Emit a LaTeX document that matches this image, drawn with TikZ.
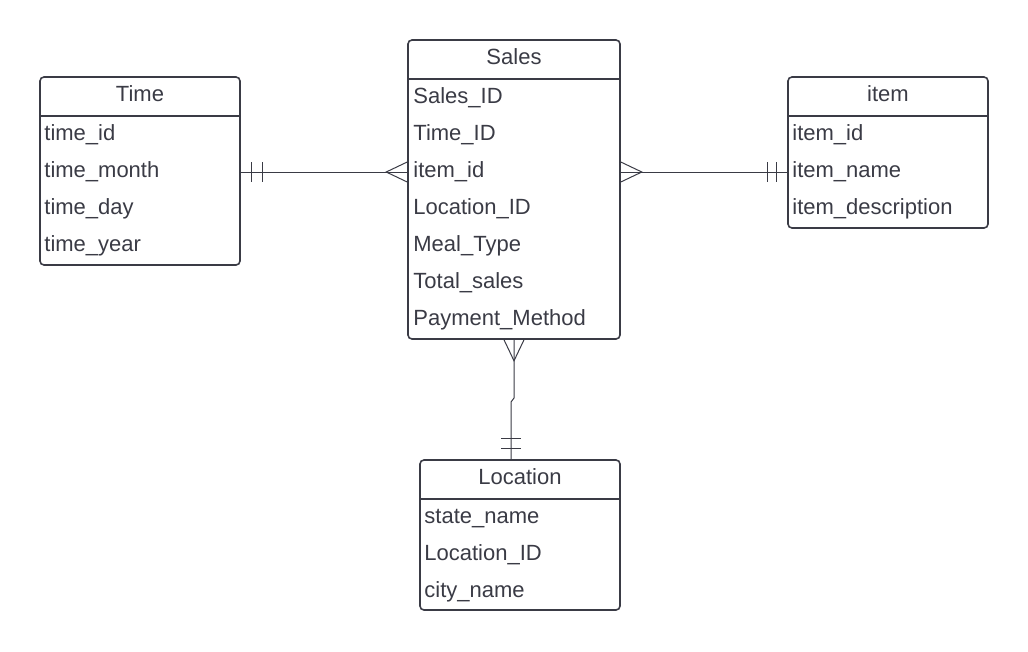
\documentclass[tikz,border=0pt]{standalone}
\usepackage{fontspec}
\setmainfont{Liberation Sans}
\definecolor{ink}{HTML}{3A3B45}

\begin{document}
\begin{tikzpicture}[x=1pt, y=-1pt,
    tbl/.style={draw=ink, line width=1.6pt, rounded corners=4pt},
    hdr/.style={draw=ink, line width=1.6pt},
    title/.style={anchor=base, inner sep=0pt, text=ink, font=\fontsize{22}{26}\selectfont},
    field/.style={anchor=base west, inner sep=0pt, text=ink, font=\fontsize{22}{26}\selectfont},
    rel/.style={draw=ink, line width=1pt}]
    \useasboundingbox (0,0) rectangle (1028,651);

    % Time table
    \node[tbl, minimum width=200pt, minimum height=188pt] (time) at (140,171) {};
    \draw[hdr] ([yshift=-40pt]time.north west) -- ([yshift=-40pt]time.north east);
    \node[title] (timeT) at ([yshift=-25pt]time.north) {Time};
    \foreach \f [count=\i] in {time\_id, time\_month, time\_day, time\_year}
        \node[field] (time\i) at ([xshift=5pt, yshift={-64pt-37pt*(\i-1)}]time.north west) {\f};

    % Sales table
    \node[tbl, minimum width=212pt, minimum height=299pt] (sales) at (514,189.5) {};
    \draw[hdr] ([yshift=-40pt]sales.north west) -- ([yshift=-40pt]sales.north east);
    \node[title] (salesT) at ([yshift=-25pt]sales.north) {Sales};
    \foreach \f [count=\i] in {Sales\_ID, Time\_ID, item\_id, Location\_ID, Meal\_Type, Total\_sales, Payment\_Method}
        \node[field] (sales\i) at ([xshift=6pt, yshift={-64.5pt-37pt*(\i-1)}]sales.north west) {\f};

    % item table
    \node[tbl, minimum width=200pt, minimum height=151pt] (item) at (888,152.5) {};
    \draw[hdr] ([yshift=-40pt]item.north west) -- ([yshift=-40pt]item.north east);
    \node[title] (itemT) at ([yshift=-25pt]item.north) {item};
    \foreach \f [count=\i] in {item\_id, item\_name, item\_description}
        \node[field] (item\i) at ([xshift=5pt, yshift={-64pt-37pt*(\i-1)}]item.north west) {\f};

    % Location table
    \node[tbl, minimum width=200pt, minimum height=150pt] (location) at (520,535) {};
    \draw[hdr] ([yshift=-40pt]location.north west) -- ([yshift=-40pt]location.north east);
    \node[title] (locationT) at ([yshift=-25pt]location.north) {Location};
    \foreach \f [count=\i] in {state\_name, Location\_ID, city\_name}
        \node[field] (location\i) at ([xshift=5pt, yshift={-64.5pt-37pt*(\i-1)}]location.north west) {\f};

    % relation ends
    \coordinate (ts) at (time.east |- 0,172);
    \coordinate (st) at (sales.west |- 0,172);
    \coordinate (si) at (sales.east |- 0,172);
    \coordinate (is) at (item.west |- 0,172);
    \coordinate (sl) at (sales.south);
    \coordinate (ls) at (location.north -| 511,0);

    % Time -- Sales (one to many)
    \draw[rel] (ts) -- (st);
    \draw[rel] ([xshift=11pt]ts) ++(0,-10) -- ++(0,20);
    \draw[rel] ([xshift=22pt]ts) ++(0,-10) -- ++(0,20);
    \draw[rel] ([yshift=10pt]st) -- ([xshift=-21pt]st) -- ([yshift=-10pt]st);

    % Sales -- item (many to one)
    \draw[rel] (si) -- (is);
    \draw[rel] ([yshift=10pt]si) -- ([xshift=21pt]si) -- ([yshift=-10pt]si);
    \draw[rel] ([xshift=-20pt]is) ++(0,-10) -- ++(0,20);
    \draw[rel] ([xshift=-11pt]is) ++(0,-10) -- ++(0,20);

    % Sales -- Location (many to one)
    \draw[rel] (sl) -- (514,398) -- (511,402) -- (ls);
    \draw[rel] ([xshift=-10pt]sl) -- ([yshift=-21pt]sl) -- ([xshift=10pt]sl);
    \draw[rel] ([yshift=21pt]ls) ++(-10,0) -- ++(20,0);
    \draw[rel] ([yshift=11pt]ls) ++(-10,0) -- ++(20,0);
\end{tikzpicture}
\end{document}
